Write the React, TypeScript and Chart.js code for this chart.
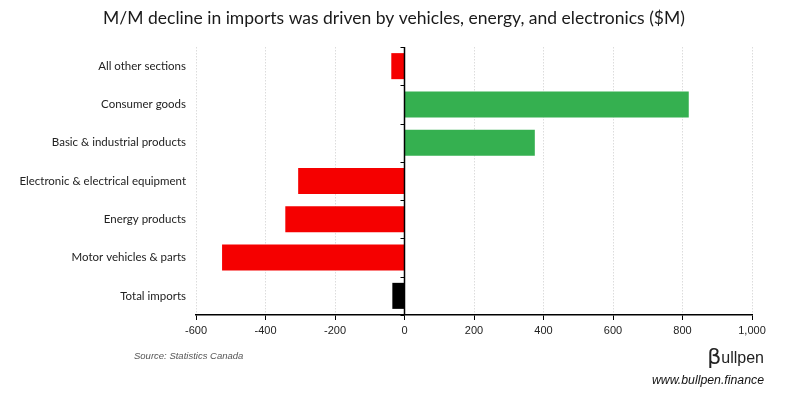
import React, { useEffect, useRef } from "react";
import { Chart, registerables } from "chart.js";

Chart.register(...registerables);

const categories = [
  "All other sections",
  "Consumer goods",
  "Basic & industrial products",
  "Electronic & electrical equipment",
  "Energy products",
  "Motor vehicles & parts",
  "Total imports",
];
const values = [-38, 818, 375, -306, -343, -525, -35];
const barColors = ["#f50000", "#35b050", "#35b050", "#f50000", "#f50000", "#f50000", "#000000"];
const xTicks = [-600, -400, -200, 0, 200, 400, 600, 800, 1000];

const TITLE = "M/M decline in imports was driven by vehicles, energy, and electronics ($M)";
const SOURCE = "Source: Statistics Canada";
const SITE = "www.bullpen.finance";

const W = 788;
const H = 397;

const decorPlugin = {
  id: "decor",
  afterDatasetsDraw(chart: any) {
    const { ctx, chartArea, scales } = chart;
    const x0 = scales.x.getPixelForValue(0);
    const yScale = scales.y;
    ctx.save();
    ctx.strokeStyle = "#000";
    ctx.lineWidth = 1.5;
    ctx.beginPath();
    ctx.moveTo(x0, chartArea.top);
    ctx.lineTo(x0, chartArea.bottom);
    ctx.stroke();
    ctx.lineWidth = 1;
    const n = categories.length;
    for (let i = 0; i <= n; i++) {
      const y = Math.round(yScale.getPixelForValue(i - 0.5)) + 0.5;
      ctx.beginPath();
      ctx.moveTo(x0 - 4, y);
      ctx.lineTo(x0, y);
      ctx.stroke();
    }
    ctx.restore();
  },
  afterDraw(chart: any) {
    const { ctx } = chart;
    ctx.save();
    ctx.fillStyle = "#1a1a1a";
    ctx.font = "17.5px Lato";
    ctx.textAlign = "center";
    ctx.textBaseline = "middle";
    ctx.fillText(TITLE, W / 2, 18);

    ctx.fillStyle = "#555";
    ctx.font = "italic 9.5px 'Liberation Sans'";
    ctx.textAlign = "left";
    ctx.fillText(SOURCE, 134, 356);

    ctx.fillStyle = "#111";
    ctx.font = "italic 12.3px 'Liberation Sans'";
    ctx.textAlign = "right";
    ctx.fillText(SITE, 764, 381);

    ctx.font = "16px 'Liberation Sans'";
    ctx.textBaseline = "alphabetic";
    ctx.fillStyle = "#222";
    ctx.fillText("ullpen", 764, 363);
    const w = ctx.measureText("ullpen").width;
    ctx.font = "22px 'DejaVu Sans'";
    ctx.fillStyle = "#222";
    ctx.fillText("β", 764 - w, 364);
    ctx.restore();
  },
};

export default function App() {
  const ref = useRef<HTMLCanvasElement | null>(null);
  useEffect(() => {
    if (!ref.current) return;
    const chart = new Chart(ref.current, {
      type: "bar",
      data: {
        labels: categories,
        datasets: [
          {
            data: values,
            backgroundColor: barColors,
            borderWidth: 0,
            barPercentage: 0.68,
            categoryPercentage: 1,
          },
        ],
      },
      options: {
        indexAxis: "y",
        responsive: false,
        animation: false,
        events: [],
        layout: { padding: { top: 47, right: 36, left: 0, bottom: 0 } },
        plugins: {
          legend: { display: false },
          title: { display: false },
          tooltip: { enabled: false },
        },
        scales: {
          x: {
            type: "linear",
            min: -600,
            max: 1000,
            afterBuildTicks: (s: any) => {
              s.ticks = xTicks.map((v) => ({ value: v }));
            },
            afterFit: (s: any) => {
              s.height = H - 315;
            },
            grid: {
              color: "#dcdcdc",
              tickColor: "#000",
              tickLength: 5,
              drawTicks: true,
            },
            border: { display: true, color: "#000", width: 1.5, dash: [1.5, 1.5] },
            ticks: {
              color: "#222",
              font: { family: "'Liberation Sans'", size: 11 },
              padding: 4,
              maxRotation: 0,
              callback: (v: any) => Number(v).toLocaleString("en-US"),
            },
          },
          y: {
            type: "category",
            afterFit: (s: any) => {
              s.width = 196;
            },
            grid: { display: false, drawTicks: false },
            border: { display: false },
            ticks: {
              color: "#222",
              font: { family: "Lato", size: 11.5 },
              padding: 10,
            },
          },
        },
      },
      plugins: [decorPlugin],
    });
    return () => chart.destroy();
  }, []);
  return (
    <div style={{ position: "absolute", left: 0, top: 0, width: W, height: H, background: "#fff" }}>
      <canvas ref={ref} width={W} height={H} style={{ display: "block", width: W, height: H }} />
    </div>
  );
}
